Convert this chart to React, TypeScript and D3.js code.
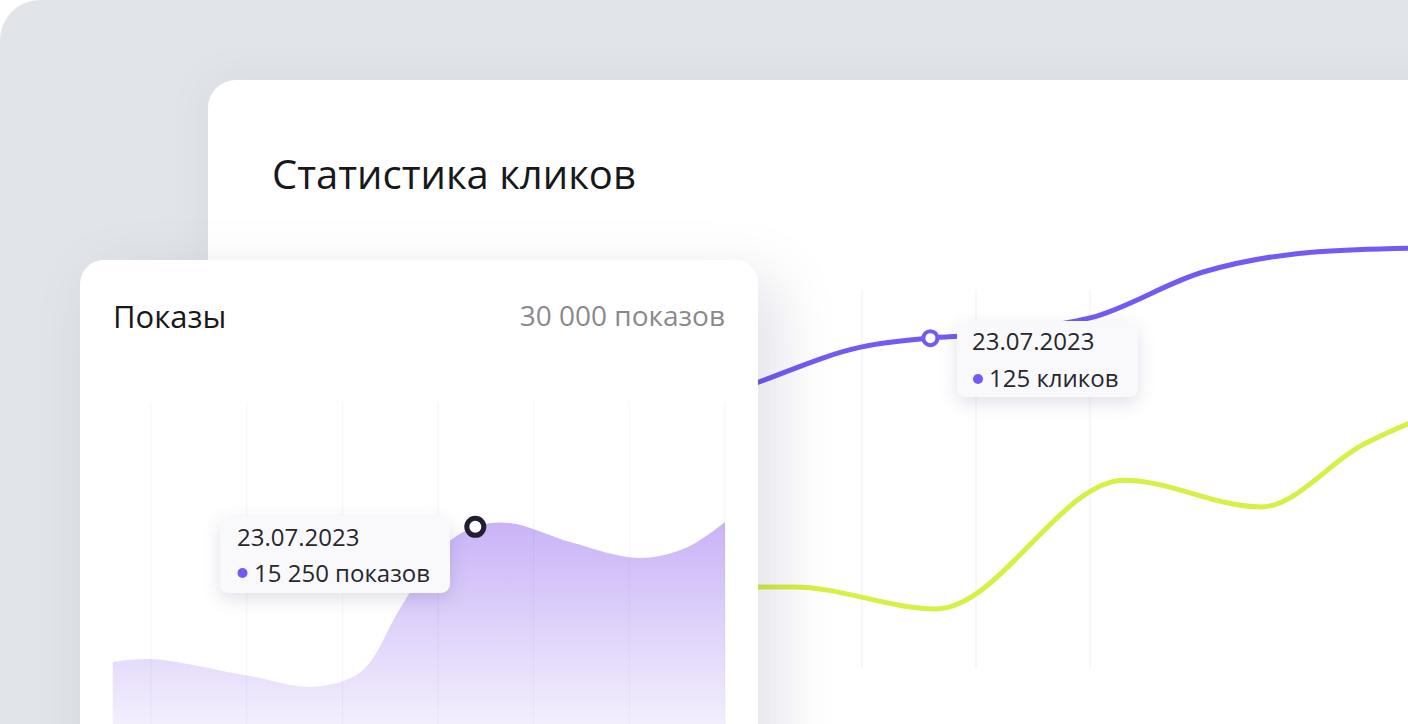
import React from 'react';
import * as d3 from 'd3';

const W = 1408;
const H = 724;

// ---- Back chart: "Статистика кликов" ----
const backTitle = 'Статистика кликов';
const clickDays = [-4, -3, -2, -1, 0, 1, 1.6, 2, 2.5, 3, 4, 5, 6];
const clickValues = [60, 70, 80, 92, 107, 121.7, 125, 126.2, 128.8, 132.6, 150, 157.5, 159];
const clickMarkerIndex = 6;
const clickTooltipDate = '23.07.2023';
const clickTooltipLabel = '125 кликов';

const secondDays = [-1, 0.4, 1.65, 3.3, 4.5, 5.4, 6.2];
const secondValues = [31.3, 31.3, 23, 71.5, 61.4, 85, 100];

const backGridDays = [-4, -3, -2, -1, 0, 1, 2, 3, 4, 5];

// ---- Front chart: "Показы" ----
const frontTitle = 'Показы';
const frontTotal = '30 000 показов';
const viewDays = [-0.4, 0, 1, 1.7, 2.2, 2.6, 3.0, 3.39, 3.75, 4.4, 5.1, 5.6, 6];
const viewValues = [7108, 7290, 6300, 5620, 6550, 10300, 13800, 15250, 15480, 14300, 13370, 14000, 15540];
const viewMarkerIndex = 7;
const viewTooltipDate = '23.07.2023';
const viewTooltipLabel = '15 250 показов';
const frontGridDays = [0, 1, 2, 3, 4, 5, 6];

const FONT = "'Open Sans', 'Noto Sans', sans-serif";
const PURPLE = '#7659f5';
const LIME = '#d8ef45';

export default function App() {
  const xBack = d3.scaleLinear().domain([0, 6]).range([748, 1432]);
  const yBack = d3.scaleLinear().domain([0, 200]).range([670, 139]);

  const xFront = d3.scaleLinear().domain([0, 6]).range([151, 725]);
  const yFront = d3.scaleLinear().domain([0, 30000]).range([780, 282]);

  const clickLine = d3
    .line<number>()
    .x((_, i) => xBack(clickDays[i]))
    .y((d) => yBack(d))
    .curve(d3.curveMonotoneX)(clickValues) as string;

  const secondLine = d3
    .line<number>()
    .x((_, i) => xBack(secondDays[i]))
    .y((d) => yBack(d))
    .curve(d3.curveMonotoneX)(secondValues) as string;

  const viewArea = d3
    .area<number>()
    .x((_, i) => xFront(viewDays[i]))
    .y0(yFront(0))
    .y1((d) => yFront(d))
    .curve(d3.curveCatmullRom.alpha(0.5))(viewValues) as string;

  const cmx = xBack(clickDays[clickMarkerIndex]);
  const cmy = yBack(clickValues[clickMarkerIndex]);
  const vmx = xFront(viewDays[viewMarkerIndex]);
  const vmy = yFront(viewValues[viewMarkerIndex]);

  return (
    <svg
      width={W}
      height={H}
      style={{ position: 'absolute', left: 0, top: 0, display: 'block' }}
      fontFamily={FONT}
    >
      <defs>
        <filter id="frontShadow" x="-30%" y="-30%" width="160%" height="160%">
          <feDropShadow dx="18" dy="18" stdDeviation="30" floodColor="#1d2240" floodOpacity="0.12" />
        </filter>
        <filter id="backShadow" x="-30%" y="-30%" width="160%" height="160%">
          <feDropShadow dx="0" dy="0" stdDeviation="20" floodColor="#1d2240" floodOpacity="0.05" />
        </filter>
        <filter id="tipShadow" x="-30%" y="-50%" width="160%" height="200%">
          <feDropShadow dx="0" dy="6" stdDeviation="9" floodColor="#1d2240" floodOpacity="0.12" />
        </filter>
        <linearGradient id="areaGrad" gradientUnits="userSpaceOnUse" x1="0" y1="515" x2="0" y2="724">
          <stop offset="0" stopColor="#c8b1f7" />
          <stop offset="1" stopColor="#f3effd" />
        </linearGradient>
        <linearGradient id="gridFadeH" gradientUnits="userSpaceOnUse" x1="760" y1="0" x2="1200" y2="0">
          <stop offset="0" stopColor="#fff" stopOpacity="1" />
          <stop offset="0.75" stopColor="#fff" stopOpacity="1" />
          <stop offset="1" stopColor="#fff" stopOpacity="0" />
        </linearGradient>
        <mask id="gridMask">
          <rect x="0" y="0" width={W} height={H} fill="url(#gridFadeH)" />
        </mask>
        <clipPath id="backClip">
          <rect x="208" y="80" width="1300" height="800" rx="28" />
        </clipPath>
        <clipPath id="frontClip">
          <rect x="80" y="260" width="678" height="600" rx="24" />
        </clipPath>
      </defs>

      <rect x="0" y="0" width={W} height={H} fill="#ffffff" />
      <rect x="0" y="0" width={W + 60} height={H + 60} rx="40" fill="#e1e4e9" />

      {/* Back card */}
      <rect x="208" y="80" width="1300" height="800" rx="28" fill="#ffffff" filter="url(#backShadow)" />
      <g clipPath="url(#backClip)">
        <g mask="url(#gridMask)">
          {backGridDays.map((d) => (
            <line
              key={d}
              x1={xBack(d)}
              x2={xBack(d)}
              y1={290}
              y2={668}
              stroke="#efeff3"
              strokeWidth={1}
            />
          ))}
        </g>
        <path d={secondLine} fill="none" stroke={LIME} strokeWidth={5} strokeLinecap="round" />
        <path d={clickLine} fill="none" stroke={PURPLE} strokeWidth={5} strokeLinecap="round" />
        <circle cx={cmx} cy={cmy} r={7} fill="#ffffff" stroke={PURPLE} strokeWidth={4} />
        <g filter="url(#tipShadow)">
          <rect x="957" y="321" width="181" height="76" rx="9" fill="#f9f9fb" />
        </g>
        <text x="972" y="350" fontSize="24" fill="#27272d">
          {clickTooltipDate}
        </text>
        <circle cx="978" cy="379" r="5" fill={PURPLE} />
        <text x="989" y="387" fontSize="24" fill="#27272d">
          {clickTooltipLabel}
        </text>
      </g>
      <text x="272" y="189" fontSize="40" fill="#18181c">
        {backTitle}
      </text>

      {/* Front card */}
      <rect x="80" y="260" width="678" height="600" rx="24" fill="#ffffff" filter="url(#frontShadow)" />
      <g clipPath="url(#frontClip)">
        <path d={viewArea} fill="url(#areaGrad)" />
        {frontGridDays.map((d) => (
          <line
            key={d}
            x1={xFront(d)}
            x2={xFront(d)}
            y1={402}
            y2={H}
            stroke="#1d2240"
            strokeOpacity={0.04}
            strokeWidth={1}
          />
        ))}
        <circle cx={vmx} cy={vmy} r={8.5} fill="#ffffff" stroke="#231d33" strokeWidth={5} />
        <g filter="url(#tipShadow)">
          <rect x="220" y="516" width="230" height="77" rx="9" fill="#f9f9fb" />
        </g>
        <text x="237" y="546" fontSize="24" fill="#27272d">
          {viewTooltipDate}
        </text>
        <circle cx="242.5" cy="573" r="5" fill={PURPLE} />
        <text x="254" y="582" fontSize="24" fill="#27272d">
          {viewTooltipLabel}
        </text>
      </g>
      <text x="113" y="328" fontSize="31" fill="#18181c">
        {frontTitle}
      </text>
      <text x="725" y="326" fontSize="28" fill="#8a8a8e" textAnchor="end">
        {frontTotal}
      </text>
    </svg>
  );
}
